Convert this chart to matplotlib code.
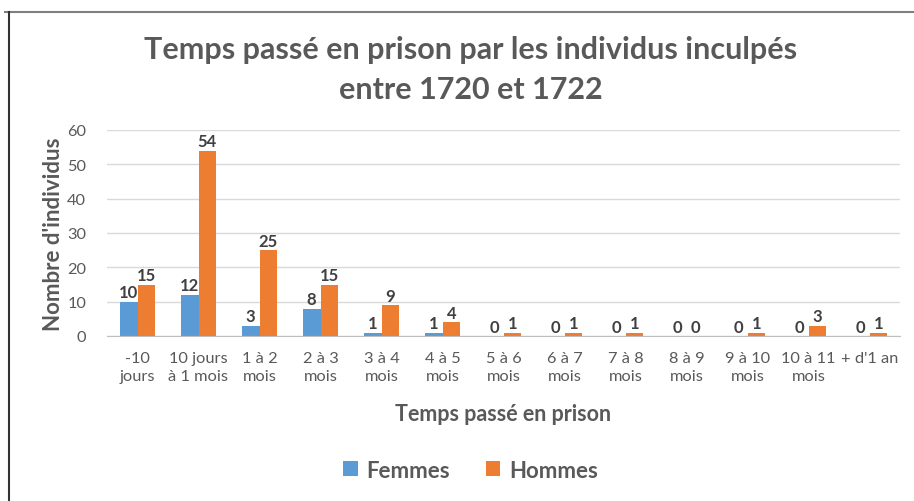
import matplotlib.pyplot as plt
import numpy as np
from matplotlib.lines import Line2D

categories = ["-10\njours", "10 jours\nà 1 mois", "1 à 2\nmois", "2 à 3\nmois", "3 à 4\nmois",
              "4 à 5\nmois", "5 à 6\nmois", "6 à 7\nmois", "7 à 8\nmois", "8 à 9\nmois",
              "9 à 10\nmois", "10 à 11\nmois", "+ d'1 an"]
femmes = [10, 12, 3, 8, 1, 1, 0, 0, 0, 0, 0, 0, 0]
hommes = [15, 54, 25, 15, 9, 4, 1, 1, 1, 0, 1, 3, 1]

plt.rcParams['font.family'] = ['Lato', 'DejaVu Sans']

grey = "#595959"
fig = plt.figure(figsize=(9.14, 5.02), dpi=100)
ax = fig.add_axes([107 / 914, 1 - 337 / 502, 793 / 914, 206 / 502])

x = np.arange(len(categories))
w = 0.29
b1 = ax.bar(x - w / 2, femmes, w, color="#5B9BD5", label="Femmes")
b2 = ax.bar(x + w / 2, hommes, w, color="#ED7D31", label="Hommes")
ax.bar_label(b1, padding=1, fontsize=12, fontweight="bold", color="#404040")
ax.bar_label(b2, padding=1, fontsize=12, fontweight="bold", color="#404040")

ax.set_xlim(-0.5, len(categories) - 0.5)
ax.set_ylim(0, 60)
ax.set_yticks(range(0, 61, 10))
ax.set_xticks(x)
ax.set_xticklabels(categories, fontsize=11.8, color=grey, linespacing=1.3)
ax.tick_params(axis="y", labelsize=11.8, labelcolor=grey, length=0, pad=15)
ax.tick_params(axis="x", length=0, pad=11)
ax.grid(axis="y", color="#D9D9D9", linewidth=1)
ax.set_axisbelow(True)
for s in ["top", "right", "left"]:
    ax.spines[s].set_visible(False)
ax.spines["bottom"].set_color("#BFBFBF")

ax.set_ylabel("Nombre d'individus", fontsize=16, fontweight="bold", color=grey, labelpad=2)
ax.set_xlabel("Temps passé en prison", fontsize=15.5, fontweight="bold", color=grey, labelpad=15)

fig.text(0.515, 1 - 50 / 502, "Temps passé en prison par les individus inculpés",
         ha="center", va="center", fontsize=22, fontweight="bold", color=grey)
fig.text(0.515, 1 - 90 / 502, "entre 1720 et 1722",
         ha="center", va="center", fontsize=22, fontweight="bold", color=grey)

fig.legend(loc="center", bbox_to_anchor=(0.515, 1 - 471 / 502), ncol=2, frameon=False,
           prop={"weight": "bold", "size": 16}, labelcolor=grey,
           handlelength=0.65, handleheight=0.65, handletextpad=0.4, columnspacing=1.6)

fig.add_artist(Line2D([5 / 914, 1], [1 - 12.5 / 502] * 2, color="#7F7F7F", linewidth=1.5))
fig.add_artist(Line2D([9 / 914] * 2, [0, 1 - 12.5 / 502], color="#333333", linewidth=1.5))

fig.savefig("out.png", dpi=100)
